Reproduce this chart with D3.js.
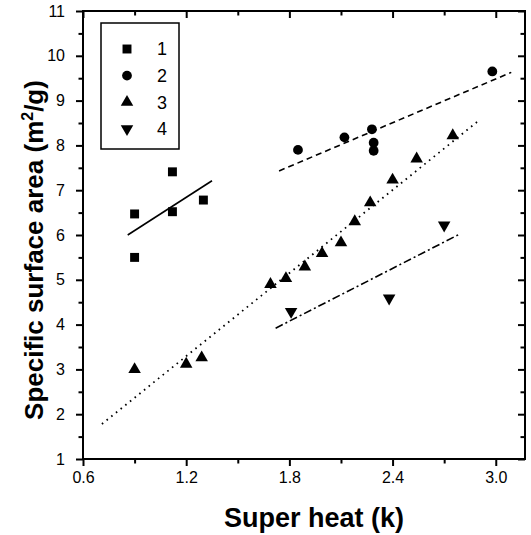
<!DOCTYPE html>
<html><head><meta charset="utf-8">
<script src="https://cdn.jsdelivr.net/npm/d3@7"></script>
<style>body{margin:0;background:#fff}svg{display:block}text{font-family:"Liberation Sans",Arial,sans-serif}</style>
</head><body><svg id="c" width="531" height="535"></svg>
<script>
const xTicks = [0.6, 1.2, 1.8, 2.4, 3.0];
const yTicks = [1,2,3,4,5,6,7,8,9,10,11];
const seriesNames = ["1","2","3","4"];
const s1x = [0.90, 0.90, 1.12, 1.12, 1.30];
const s1y = [6.47, 5.50, 7.41, 6.52, 6.78];
const s2x = [1.85, 2.12, 2.28, 2.29, 2.29, 2.98];
const s2y = [7.90, 8.18, 8.36, 8.06, 7.88, 9.65];
const s3x = [0.90, 1.20, 1.29, 1.69, 1.78, 1.89, 1.99, 2.10, 2.18, 2.27, 2.40, 2.54, 2.75];
const s3y = [3.00, 3.12, 3.26, 4.90, 5.03, 5.29, 5.59, 5.83, 6.30, 6.72, 7.23, 7.70, 8.22];
const s4x = [1.81, 2.38, 2.70];
const s4y = [4.29, 4.59, 6.22];
// fit lines (start/end x, y)
const fit1x = [0.86, 1.35], fit1y = [6.00, 7.21];
const fit2x = [1.74, 3.09], fit2y = [7.43, 9.63];
const fit3x = [0.71, 2.90], fit3y = [1.78, 8.55];
const fit4x = [1.72, 2.79], fit4y = [3.92, 6.02];

const svg = d3.select("#c");
const L=83, R=525, T=11, B=459;
const x = d3.scaleLinear().domain([0.6, 3.17]).range([L, R]);
const y = d3.scaleLinear().domain([1, 11]).range([B, T]);

const minorX = d3.range(0.9, 3.17, 0.6);
const minorY = d3.range(1.5, 11, 1);

function axisDraw(axisFn, scale, tr, major, minor, fmt, size, inward, pad){
  const g = svg.append("g").attr("transform", tr);
  g.call(axisFn(scale).tickValues(major).tickSize(inward?-7:7).tickSizeOuter(0).tickPadding(pad).tickFormat(fmt));
  const g2 = svg.append("g").attr("transform", tr);
  g2.call(axisFn(scale).tickValues(minor).tickSize(inward?-4.5:4.5).tickSizeOuter(0).tickFormat(()=>""));
  [g,g2].forEach(gg=>{
    gg.select(".domain").remove();
    gg.selectAll(".tick line").attr("stroke","#000").attr("stroke-width",2);
    gg.selectAll(".tick text").attr("font-size",size).attr("fill","#000");
  });
  return g;
}
axisDraw(d3.axisBottom, x, `translate(0,${B})`, xTicks, minorX, d3.format(".1f"), 16, false, 6);
axisDraw(d3.axisLeft, y, `translate(${L},0)`, yTicks, minorY, d3.format("d"), 16, false, 11);
axisDraw(d3.axisTop, x, `translate(0,${T})`, xTicks, minorX, ()=>"", 16, true, 0);
axisDraw(d3.axisRight, y, `translate(${R},0)`, yTicks, minorY, ()=>"", 16, true, 0);

svg.append("rect").attr("x",L).attr("y",T).attr("width",R-L).attr("height",B-T)
  .attr("fill","none").attr("stroke","#000").attr("stroke-width",2);

// fit lines
const line = d3.line().x(d=>x(d[0])).y(d=>y(d[1]));
const fits = [
  [fit1x, fit1y, null],
  [fit2x, fit2y, "6,4"],
  [fit3x, fit3y, "1.6,4.4"],
  [fit4x, fit4y, "8,3,2,3"]
];
fits.forEach(([fx,fy,dash])=>{
  svg.append("path").attr("d", line(d3.zip(fx,fy))).attr("fill","none")
    .attr("stroke","#000").attr("stroke-width", dash==="1.6,4.4"?1.8:1.6)
    .attr("stroke-dasharray", dash);
});

// markers
const sym = [
  d3.symbol().type(d3.symbolSquare).size(80),
  d3.symbol().type(d3.symbolCircle).size(75),
  d3.symbol().type(d3.symbolTriangle).size(68),
  d3.symbol().type(d3.symbolTriangle).size(68)
];
const rot = [0,0,0,180];
const sets = [[s1x,s1y],[s2x,s2y],[s3x,s3y],[s4x,s4y]];
sets.forEach(([sx,sy],i)=>{
  svg.append("g").selectAll("path").data(d3.zip(sx,sy)).join("path")
    .attr("d", sym[i]())
    .attr("transform", d=>`translate(${x(d[0])},${y(d[1])}) rotate(${rot[i]})`)
    .attr("fill","#000");
});

// legend
svg.append("rect").attr("x",101).attr("y",23).attr("width",78).attr("height",126)
  .attr("fill","#fff").attr("stroke","#000").attr("stroke-width",1.5);
seriesNames.forEach((n,i)=>{
  const yy = 49 + i*26.6;
  svg.append("path").attr("d", sym[i]()).attr("transform",`translate(127,${yy}) rotate(${rot[i]})`).attr("fill","#000");
  svg.append("text").attr("x",162).attr("y",yy).attr("dy","0.36em").attr("text-anchor","middle")
    .attr("font-size",18).text(n);
});

// axis titles
svg.append("text").attr("x",314).attr("y",527).attr("text-anchor","middle")
  .attr("font-size",27).attr("font-weight","bold").text("Super heat (k)");
const yt = svg.append("text").attr("transform","translate(43,250) rotate(-90)").attr("text-anchor","middle")
  .attr("font-size",26).attr("font-weight","bold");
yt.append("tspan").text("Specific surface area (m");
yt.append("tspan").attr("font-size",16).attr("dy",-10).text("2");
yt.append("tspan").attr("dy",10).text("/g)");
</script></body></html>
